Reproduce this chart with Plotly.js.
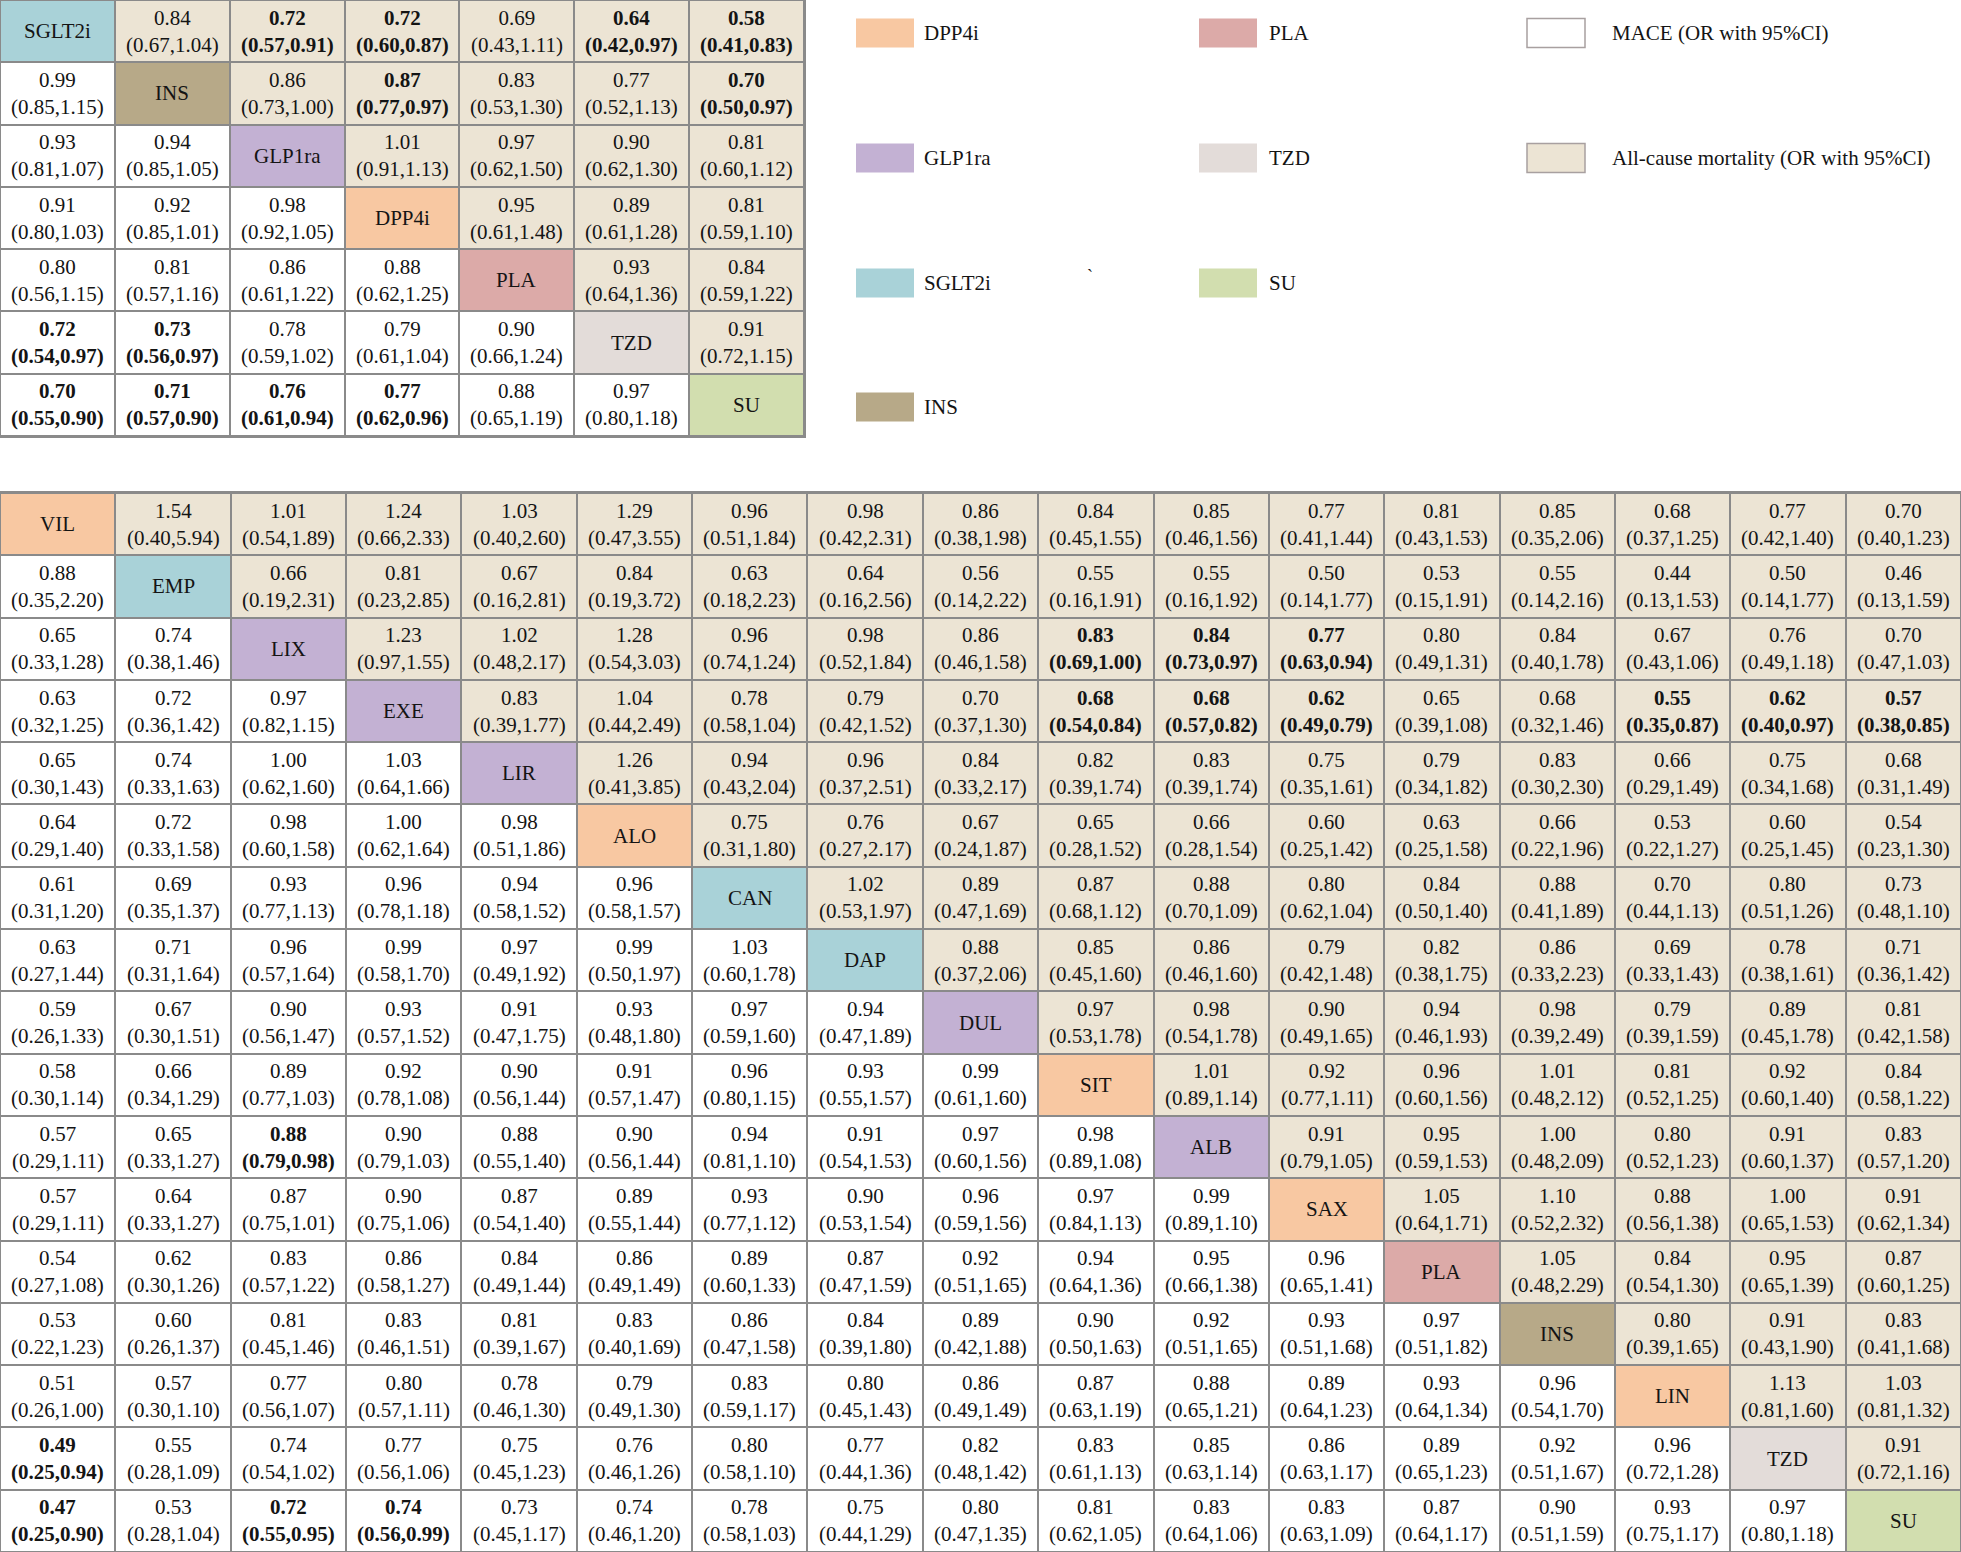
<!DOCTYPE html>
<html><head><meta charset="utf-8">
<script src="https://cdn.plot.ly/plotly-3.0.1.min.js"></script>
<style>html,body{margin:0;padding:0;background:#fff}</style>
</head><body><div id="chart" style="width:1961px;height:1552px"></div>
<script>
// ---------- categories & colours ----------
const classNames  = ['MACE (OR with 95%CI)','All-cause mortality (OR with 95%CI)','DPP4i','PLA','GLP1ra','TZD','SGLT2i','SU','INS'];
const classColors = ['#ffffff','#ece4d4','#f8c8a2','#dcaaa8','#c3b1d3','#e3dcd9','#a9d2d8','#d2deaf','#b7a988'];

// ---------- top table: drug classes ----------
const topNames   = ['SGLT2i','INS','GLP1ra','DPP4i','PLA','TZD','SU'];
const topClasses = ['SGLT2i','INS','GLP1ra','DPP4i','PLA','TZD','SU'];
// [OR, lower 95%CI, upper 95%CI]; lower triangle = MACE, upper = all-cause mortality
const topCells = [
 [null,[0.84,0.67,1.04],[0.72,0.57,0.91],[0.72,0.60,0.87],[0.69,0.43,1.11],[0.64,0.42,0.97],[0.58,0.41,0.83]],
 [[0.99,0.85,1.15],null,[0.86,0.73,1.00],[0.87,0.77,0.97],[0.83,0.53,1.30],[0.77,0.52,1.13],[0.70,0.50,0.97]],
 [[0.93,0.81,1.07],[0.94,0.85,1.05],null,[1.01,0.91,1.13],[0.97,0.62,1.50],[0.90,0.62,1.30],[0.81,0.60,1.12]],
 [[0.91,0.80,1.03],[0.92,0.85,1.01],[0.98,0.92,1.05],null,[0.95,0.61,1.48],[0.89,0.61,1.28],[0.81,0.59,1.10]],
 [[0.80,0.56,1.15],[0.81,0.57,1.16],[0.86,0.61,1.22],[0.88,0.62,1.25],null,[0.93,0.64,1.36],[0.84,0.59,1.22]],
 [[0.72,0.54,0.97],[0.73,0.56,0.97],[0.78,0.59,1.02],[0.79,0.61,1.04],[0.90,0.66,1.24],null,[0.91,0.72,1.15]],
 [[0.70,0.55,0.90],[0.71,0.57,0.90],[0.76,0.61,0.94],[0.77,0.62,0.96],[0.88,0.65,1.19],[0.97,0.80,1.18],null]
];
const topBold = [[0,2],[0,3],[0,5],[0,6],[1,3],[1,6],[5,0],[5,1],[6,0],[6,1],[6,2],[6,3]];

// ---------- bottom table: individual drugs ----------
const botNames   = ['VIL','EMP','LIX','EXE','LIR','ALO','CAN','DAP','DUL','SIT','ALB','SAX','PLA','INS','LIN','TZD','SU'];
const botClasses = ['DPP4i','SGLT2i','GLP1ra','GLP1ra','GLP1ra','DPP4i','SGLT2i','SGLT2i','GLP1ra','DPP4i','GLP1ra','DPP4i','PLA','INS','DPP4i','TZD','SU'];
const botCells = [
 [null,[1.54,0.40,5.94],[1.01,0.54,1.89],[1.24,0.66,2.33],[1.03,0.40,2.60],[1.29,0.47,3.55],[0.96,0.51,1.84],[0.98,0.42,2.31],[0.86,0.38,1.98],[0.84,0.45,1.55],[0.85,0.46,1.56],[0.77,0.41,1.44],[0.81,0.43,1.53],[0.85,0.35,2.06],[0.68,0.37,1.25],[0.77,0.42,1.40],[0.70,0.40,1.23]],
 [[0.88,0.35,2.20],null,[0.66,0.19,2.31],[0.81,0.23,2.85],[0.67,0.16,2.81],[0.84,0.19,3.72],[0.63,0.18,2.23],[0.64,0.16,2.56],[0.56,0.14,2.22],[0.55,0.16,1.91],[0.55,0.16,1.92],[0.50,0.14,1.77],[0.53,0.15,1.91],[0.55,0.14,2.16],[0.44,0.13,1.53],[0.50,0.14,1.77],[0.46,0.13,1.59]],
 [[0.65,0.33,1.28],[0.74,0.38,1.46],null,[1.23,0.97,1.55],[1.02,0.48,2.17],[1.28,0.54,3.03],[0.96,0.74,1.24],[0.98,0.52,1.84],[0.86,0.46,1.58],[0.83,0.69,1.00],[0.84,0.73,0.97],[0.77,0.63,0.94],[0.80,0.49,1.31],[0.84,0.40,1.78],[0.67,0.43,1.06],[0.76,0.49,1.18],[0.70,0.47,1.03]],
 [[0.63,0.32,1.25],[0.72,0.36,1.42],[0.97,0.82,1.15],null,[0.83,0.39,1.77],[1.04,0.44,2.49],[0.78,0.58,1.04],[0.79,0.42,1.52],[0.70,0.37,1.30],[0.68,0.54,0.84],[0.68,0.57,0.82],[0.62,0.49,0.79],[0.65,0.39,1.08],[0.68,0.32,1.46],[0.55,0.35,0.87],[0.62,0.40,0.97],[0.57,0.38,0.85]],
 [[0.65,0.30,1.43],[0.74,0.33,1.63],[1.00,0.62,1.60],[1.03,0.64,1.66],null,[1.26,0.41,3.85],[0.94,0.43,2.04],[0.96,0.37,2.51],[0.84,0.33,2.17],[0.82,0.39,1.74],[0.83,0.39,1.74],[0.75,0.35,1.61],[0.79,0.34,1.82],[0.83,0.30,2.30],[0.66,0.29,1.49],[0.75,0.34,1.68],[0.68,0.31,1.49]],
 [[0.64,0.29,1.40],[0.72,0.33,1.58],[0.98,0.60,1.58],[1.00,0.62,1.64],[0.98,0.51,1.86],null,[0.75,0.31,1.80],[0.76,0.27,2.17],[0.67,0.24,1.87],[0.65,0.28,1.52],[0.66,0.28,1.54],[0.60,0.25,1.42],[0.63,0.25,1.58],[0.66,0.22,1.96],[0.53,0.22,1.27],[0.60,0.25,1.45],[0.54,0.23,1.30]],
 [[0.61,0.31,1.20],[0.69,0.35,1.37],[0.93,0.77,1.13],[0.96,0.78,1.18],[0.94,0.58,1.52],[0.96,0.58,1.57],null,[1.02,0.53,1.97],[0.89,0.47,1.69],[0.87,0.68,1.12],[0.88,0.70,1.09],[0.80,0.62,1.04],[0.84,0.50,1.40],[0.88,0.41,1.89],[0.70,0.44,1.13],[0.80,0.51,1.26],[0.73,0.48,1.10]],
 [[0.63,0.27,1.44],[0.71,0.31,1.64],[0.96,0.57,1.64],[0.99,0.58,1.70],[0.97,0.49,1.92],[0.99,0.50,1.97],[1.03,0.60,1.78],null,[0.88,0.37,2.06],[0.85,0.45,1.60],[0.86,0.46,1.60],[0.79,0.42,1.48],[0.82,0.38,1.75],[0.86,0.33,2.23],[0.69,0.33,1.43],[0.78,0.38,1.61],[0.71,0.36,1.42]],
 [[0.59,0.26,1.33],[0.67,0.30,1.51],[0.90,0.56,1.47],[0.93,0.57,1.52],[0.91,0.47,1.75],[0.93,0.48,1.80],[0.97,0.59,1.60],[0.94,0.47,1.89],null,[0.97,0.53,1.78],[0.98,0.54,1.78],[0.90,0.49,1.65],[0.94,0.46,1.93],[0.98,0.39,2.49],[0.79,0.39,1.59],[0.89,0.45,1.78],[0.81,0.42,1.58]],
 [[0.58,0.30,1.14],[0.66,0.34,1.29],[0.89,0.77,1.03],[0.92,0.78,1.08],[0.90,0.56,1.44],[0.91,0.57,1.47],[0.96,0.80,1.15],[0.93,0.55,1.57],[0.99,0.61,1.60],null,[1.01,0.89,1.14],[0.92,0.77,1.11],[0.96,0.60,1.56],[1.01,0.48,2.12],[0.81,0.52,1.25],[0.92,0.60,1.40],[0.84,0.58,1.22]],
 [[0.57,0.29,1.11],[0.65,0.33,1.27],[0.88,0.79,0.98],[0.90,0.79,1.03],[0.88,0.55,1.40],[0.90,0.56,1.44],[0.94,0.81,1.10],[0.91,0.54,1.53],[0.97,0.60,1.56],[0.98,0.89,1.08],null,[0.91,0.79,1.05],[0.95,0.59,1.53],[1.00,0.48,2.09],[0.80,0.52,1.23],[0.91,0.60,1.37],[0.83,0.57,1.20]],
 [[0.57,0.29,1.11],[0.64,0.33,1.27],[0.87,0.75,1.01],[0.90,0.75,1.06],[0.87,0.54,1.40],[0.89,0.55,1.44],[0.93,0.77,1.12],[0.90,0.53,1.54],[0.96,0.59,1.56],[0.97,0.84,1.13],[0.99,0.89,1.10],null,[1.05,0.64,1.71],[1.10,0.52,2.32],[0.88,0.56,1.38],[1.00,0.65,1.53],[0.91,0.62,1.34]],
 [[0.54,0.27,1.08],[0.62,0.30,1.26],[0.83,0.57,1.22],[0.86,0.58,1.27],[0.84,0.49,1.44],[0.86,0.49,1.49],[0.89,0.60,1.33],[0.87,0.47,1.59],[0.92,0.51,1.65],[0.94,0.64,1.36],[0.95,0.66,1.38],[0.96,0.65,1.41],null,[1.05,0.48,2.29],[0.84,0.54,1.30],[0.95,0.65,1.39],[0.87,0.60,1.25]],
 [[0.53,0.22,1.23],[0.60,0.26,1.37],[0.81,0.45,1.46],[0.83,0.46,1.51],[0.81,0.39,1.67],[0.83,0.40,1.69],[0.86,0.47,1.58],[0.84,0.39,1.80],[0.89,0.42,1.88],[0.90,0.50,1.63],[0.92,0.51,1.65],[0.93,0.51,1.68],[0.97,0.51,1.82],null,[0.80,0.39,1.65],[0.91,0.43,1.90],[0.83,0.41,1.68]],
 [[0.51,0.26,1.00],[0.57,0.30,1.10],[0.77,0.56,1.07],[0.80,0.57,1.11],[0.78,0.46,1.30],[0.79,0.49,1.30],[0.83,0.59,1.17],[0.80,0.45,1.43],[0.86,0.49,1.49],[0.87,0.63,1.19],[0.88,0.65,1.21],[0.89,0.64,1.23],[0.93,0.64,1.34],[0.96,0.54,1.70],null,[1.13,0.81,1.60],[1.03,0.81,1.32]],
 [[0.49,0.25,0.94],[0.55,0.28,1.09],[0.74,0.54,1.02],[0.77,0.56,1.06],[0.75,0.45,1.23],[0.76,0.46,1.26],[0.80,0.58,1.10],[0.77,0.44,1.36],[0.82,0.48,1.42],[0.83,0.61,1.13],[0.85,0.63,1.14],[0.86,0.63,1.17],[0.89,0.65,1.23],[0.92,0.51,1.67],[0.96,0.72,1.28],null,[0.91,0.72,1.16]],
 [[0.47,0.25,0.90],[0.53,0.28,1.04],[0.72,0.55,0.95],[0.74,0.56,0.99],[0.73,0.45,1.17],[0.74,0.46,1.20],[0.78,0.58,1.03],[0.75,0.44,1.29],[0.80,0.47,1.35],[0.81,0.62,1.05],[0.83,0.64,1.06],[0.83,0.63,1.09],[0.87,0.64,1.17],[0.90,0.51,1.59],[0.93,0.75,1.17],[0.97,0.80,1.18],null]
];
const botBold = [[2,9],[2,10],[2,11],[3,9],[3,10],[3,11],[3,14],[3,15],[3,16],[10,2],[15,0],[16,0],[16,2],[16,3]];

// ---------- legend ----------
const legendColumns = [
  ['DPP4i','GLP1ra','SGLT2i','INS'],
  ['PLA','TZD','SU'],
  ['MACE (OR with 95%CI)','All-cause mortality (OR with 95%CI)']
];

// ---------- build ----------
const W = 1961, H = 1552;
const FONT = 'Liberation Serif, Times New Roman, serif';
const TXT = '#141414';
const NC = classNames.length;
const colorscale = [];
classColors.forEach((c,k)=>{ colorscale.push([k/NC,c]); colorscale.push([(k+1)/NC,c]); });

const annotations = [];

function buildTable(names, classes, cells, bold, xa, ya){
  const n = names.length;
  const boldSet = new Set(bold.map(b=>b[0]+'_'+b[1]));
  const z = [];
  const idx = [...Array(n).keys()];
  for(let i=0;i<n;i++){
    const row = [];
    for(let j=0;j<n;j++){
      let s;
      if(i===j){ row.push(classNames.indexOf(classes[i])); s = names[i]; }
      else {
        row.push(j>i ? 1 : 0);
        const c = cells[i][j];
        const a = c[0].toFixed(2), b = '(' + c[1].toFixed(2) + ',' + c[2].toFixed(2) + ')';
        s = boldSet.has(i+'_'+j) ? '<b>'+a+'</b><br><b>'+b+'</b>' : a+'<br>'+b;
      }
      annotations.push({xref:xa, yref:ya, x:j, y:i, text:s, showarrow:false,
        xanchor:'center', yanchor:'middle', font:{family:FONT, size:21, color:TXT}});
    }
    z.push(row);
  }
  return {type:'heatmap', x:idx, y:idx, z:z, zmin:-0.5, zmax:NC-0.5, colorscale:colorscale,
     showscale:false, xgap:2, ygap:2, hoverinfo:'skip', xaxis:xa, yaxis:ya};
}

const data = [
  buildTable(topNames, topClasses, topCells, topBold, 'x', 'y'),
  buildTable(botNames, botClasses, botCells, botBold, 'x2', 'y2')
];

function axis(dom, n, anchor, rev){
  return {domain:dom, range: rev ? [n-0.5,-0.5] : [-0.5,n-0.5], anchor:anchor,
    showgrid:false, zeroline:false, showticklabels:false, ticks:'',
    showline:true, mirror:true, linecolor:'#8a8a8a', linewidth:2, fixedrange:true};
}

const shapes = [];
const swX = [856,1199,1527], lbX = [922,1267,1610], rowY = [33,158,283,407];
const swW = 58, swH = 29;
legendColumns.forEach((col,ci)=>{
  col.forEach((name,ri)=>{
    const k = classNames.indexOf(name);
    const bordered = k < 2;
    shapes.push({type:'rect', xref:'paper', yref:'paper',
      x0: swX[ci]/W, x1:(swX[ci]+swW)/W, y0: 1-(rowY[ri]+swH/2)/H, y1: 1-(rowY[ri]-swH/2)/H,
      fillcolor: classColors[k], line:{color: bordered ? '#a8a0a0' : 'rgba(0,0,0,0)', width: bordered ? 1.5 : 0}});
    annotations.push({xref:'paper', yref:'paper', x: lbX[ci]/W, y: 1-rowY[ri]/H, xanchor:'left', yanchor:'middle',
      text:name, showarrow:false, font:{family:FONT, size:21, color:TXT}});
  });
});
annotations.push({xref:'paper', yref:'paper', x:1090/W, y:1-276/H, xanchor:'center', yanchor:'middle',
  text:'`', showarrow:false, font:{family:FONT, size:18, color:TXT}});

const layout = {
  width:W, height:H, margin:{l:0,r:0,t:0,b:0},
  paper_bgcolor:'#ffffff', plot_bgcolor:'#8a8a8a', showlegend:false,
  xaxis: axis([0, 804/W], topNames.length, 'y', false),
  yaxis: axis([1-436/H, 1], topNames.length, 'x', true),
  xaxis2: axis([0, 1], botNames.length, 'y2', false),
  yaxis2: axis([0, 1-493/H], botNames.length, 'x2', true),
  shapes: shapes, annotations: annotations
};

Plotly.newPlot('chart', data, layout, {staticPlot:true, displayModeBar:false});
</script>
</body></html>
